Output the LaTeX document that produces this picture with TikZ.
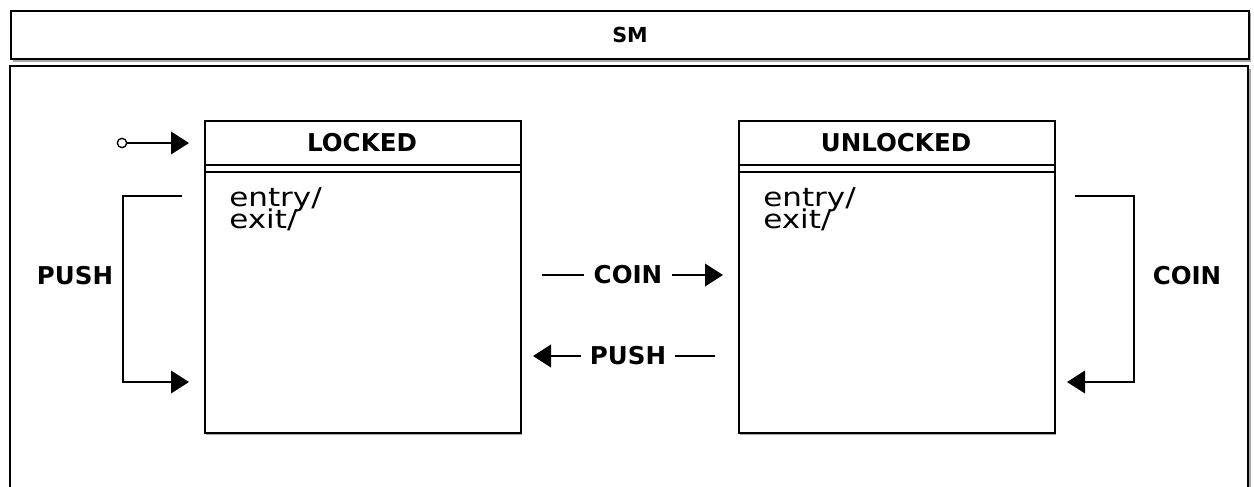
\documentclass[tikz,border=0pt]{standalone}
\usepackage{fontspec}
\setmainfont{DejaVu Sans}
\newfontfamily\bodyfont[FakeStretch=1.2]{DejaVu Sans}
\newcommand\bodysetup{\bodyfont\fontsize{19.4}{16.5}\selectfont\lineskiplimit=-30pt\relax\lineskip=0pt\relax}
\usetikzlibrary{arrows.meta}
\begin{document}
\begin{tikzpicture}[x=0.75pt,y=-0.75pt,
  frame/.style={draw=black, line width=1.5pt, fill=white},
  shadowbox/.style={fill=black!35, draw=none},
  conn/.style={line width=1.1pt},
  arr/.style={conn, -{Triangle[length=13.5pt,width=17pt]}},
  lbl/.style={font=\bfseries\fontsize{18.4}{20}\selectfont, inner sep=0pt},
  smlbl/.style={font=\bfseries\fontsize{15.5}{18}\selectfont, inner sep=0pt},
  body/.style={font=\bodysetup, align=left, inner sep=0pt, anchor=north west},
  bg/.style={fill=white, inner sep=3pt}]
\useasboundingbox (0,0) rectangle (1254,486);
% outer SM container
\fill[shadowbox] (13,13) rectangle (1251,62);
\node[frame, minimum width=928.5pt, minimum height=36pt, anchor=north west, inner sep=0pt] (smhead) at (10,10) {};
\node[smlbl] (smtitle) at (smhead.center) {SM};
\fill[shadowbox] (13,69) rectangle (1251,490);
\draw[frame] (10,490) -- (10,66) -- (1248,66) -- (1248,490);
% states
\foreach \n/\x/\t in {locked/204/LOCKED, unlocked/738/UNLOCKED}{
  \fill[shadowbox] (\x+2,122) rectangle (\x+318,435);
  \node[frame, minimum width=237pt, minimum height=234pt, anchor=north west, inner sep=0pt] (\n) at (\x,120) {};
  \draw[line width=1.5pt] (\x,165) -- (\x+316,165);
  \draw[line width=1.5pt] (\x,172) -- (\x+316,172);
  \node[lbl] (\n title) at (\x+158,143) {\t};
  \node[body] (\n body) at (\x+25,187) {entry/\\exit/};
}
% initial
\node[draw, circle, line width=1pt, minimum size=7pt, inner sep=0pt, fill=white] (init) at (122,143) {};
\coordinate (lockin) at (189,143);
\draw[arr] (init) -- (lockin);
% PUSH self loop on LOCKED
\coordinate (pa) at (182,196);
\coordinate (pb) at (123,196);
\coordinate (pc) at (123,382);
\coordinate (pd) at (189,382);
\draw[arr] (pa) -- (pb) -- (pc) -- (pd);
\node[lbl] (pushl) at (75,276) {PUSH};
% COIN self loop on UNLOCKED
\coordinate (ca) at (1075,196);
\coordinate (cb) at (1134,196);
\coordinate (cc) at (1134,382);
\coordinate (cd) at (1067,382);
\draw[arr] (ca) -- (cb) -- (cc) -- (cd);
\node[lbl] (coinr) at (1187,276) {COIN};
% COIN LOCKED -> UNLOCKED
\coordinate (c1) at (542,275);
\coordinate (c2) at (723,275);
\draw[arr] (c1) -- (c2);
\node[lbl, bg, inner xsep=7pt] (coinm) at (628,275) {COIN};
% PUSH UNLOCKED -> LOCKED
\coordinate (p1) at (715,356);
\coordinate (p2) at (533,356);
\draw[arr] (p1) -- (p2);
\node[lbl, bg, inner xsep=7pt] (pushm) at (628,356) {PUSH};
\end{tikzpicture}
\end{document}
